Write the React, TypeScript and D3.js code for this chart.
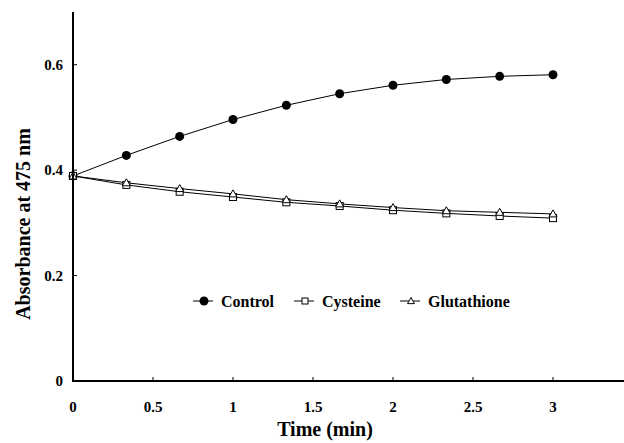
import React from "react";
import * as d3 from "d3";

// time in minutes
const times = [0, 1 / 3, 2 / 3, 1, 4 / 3, 5 / 3, 2, 7 / 3, 8 / 3, 3];
const control = [0.389, 0.428, 0.464, 0.496, 0.523, 0.545, 0.561, 0.572, 0.578, 0.581];
const cysteine = [0.389, 0.372, 0.359, 0.349, 0.339, 0.332, 0.324, 0.318, 0.313, 0.309];
const glutathione = [0.389, 0.376, 0.365, 0.355, 0.344, 0.336, 0.329, 0.323, 0.32, 0.317];
const xTicks = [0, 0.5, 1, 1.5, 2, 2.5, 3];
const yTicks = [0, 0.2, 0.4, 0.6];
const seriesNames = ["Control", "Cysteine", "Glutathione"];

const W = 624;
const H = 443;
const font = "'Liberation Serif', 'Times New Roman', serif";

const Marker = ({ kind, x, y, small }: { kind: string; x: number; y: number; small?: boolean }) => {
  if (kind === "Control") return <circle cx={x} cy={y} r={4.5} fill="#000" />;
  if (kind === "Cysteine") {
    const h = small ? 3 : 3.5;
    return <rect x={x - h} y={y - h} width={h * 2} height={h * 2} fill="#fff" stroke="#000" strokeWidth={1} />;
  }
  const s = small ? 3.5 : 4;
  return (
    <path
      d={`M${x},${y - s}L${x + s},${y + s * 0.75}L${x - s},${y + s * 0.75}Z`}
      fill="#fff"
      stroke="#000"
      strokeWidth={1}
    />
  );
};

const App = () => {
  const x = d3.scaleLinear().domain([0, 3]).range([73, 553]);
  const y = d3.scaleLinear().domain([0, 0.7]).range([381, 12]);

  const series = [
    { name: "Control", values: control },
    { name: "Cysteine", values: cysteine },
    { name: "Glutathione", values: glutathione },
  ];

  const line = d3
    .line<number>()
    .x((_, i) => x(times[i]))
    .y((d) => y(d));

  const legendX = [193, 294, 400];
  const legendY = 301;

  return (
    <svg
      width={W}
      height={H}
      style={{ position: "absolute", left: 0, top: 0, background: "#fff" }}
      fontFamily={font}
      fontWeight="bold"
    >
      {/* lines */}
      {series.map((s) => (
        <path key={s.name} d={line(s.values) || ""} fill="none" stroke="#000" strokeWidth={1} />
      ))}
      {/* markers */}
      {series.map((s) =>
        s.values.map((v, i) => <Marker key={s.name + i} kind={s.name} x={x(times[i])} y={y(v)} />)
      )}

      {/* axes */}
      <line x1={x(0)} x2={x(0)} y1={y(0.7)} y2={y(0) + 1} stroke="#000" strokeWidth={2} />
      <line x1={x(0) - 1} x2={W} y1={y(0)} y2={y(0)} stroke="#000" strokeWidth={2} />
      {yTicks.map((t) => (
        <g key={t}>
          <line x1={x(0)} x2={x(0) + 4} y1={y(t)} y2={y(t)} stroke="#000" strokeWidth={1} />
          <text x={x(0) - 10} y={y(t)} dy="0.35em" textAnchor="end" fontSize={15}>
            {t}
          </text>
        </g>
      ))}
      {xTicks.map((t) => (
        <g key={t}>
          <line x1={x(t)} x2={x(t)} y1={y(0)} y2={y(0) - 4} stroke="#000" strokeWidth={1} />
          <text x={x(t)} y={y(0) + 26} dy="0.35em" textAnchor="middle" fontSize={15}>
            {t}
          </text>
        </g>
      ))}

      {/* axis titles */}
      <text x={325} y={436} textAnchor="middle" fontSize={20}>
        Time (min)
      </text>
      <text transform={`translate(23,224) rotate(-90)`} dy="0.35em" textAnchor="middle" fontSize={20}>
        Absorbance at 475 nm
      </text>

      {/* legend */}
      {seriesNames.map((n, i) => (
        <g key={n}>
          <line x1={legendX[i]} x2={legendX[i] + 20} y1={legendY} y2={legendY} stroke="#000" strokeWidth={1} />
          <Marker kind={n} x={legendX[i] + 11} y={legendY} small />
          <text x={legendX[i] + 28} y={legendY} dy="0.35em" fontSize={16}>
            {n}
          </text>
        </g>
      ))}
    </svg>
  );
};

export default App;
